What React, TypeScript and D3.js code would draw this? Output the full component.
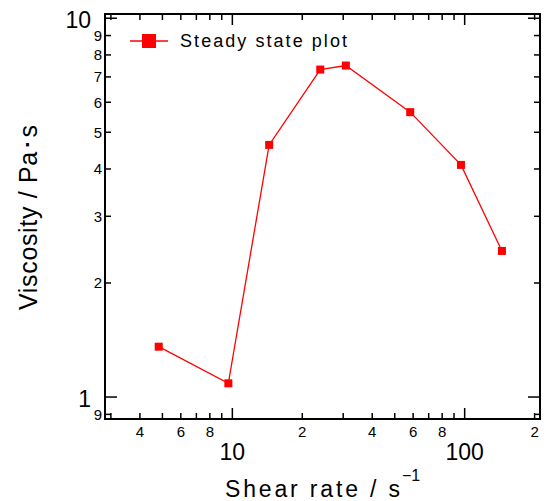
import { useEffect } from "react";
import * as d3 from "d3";

// values
const shearRate = [4.82, 9.61, 14.4, 23.9, 30.8, 58.3, 96.4, 144.7];
const viscosity = [1.358, 1.087, 4.63, 7.32, 7.5, 5.65, 4.1, 2.43];
const legendLabel = "Steady state plot";
const xLabeledMinor = [2, 4, 6, 8];

const width = 546, height = 501;
const margin = { top: 14, right: 6, bottom: 82, left: 105 };
const font = "'Liberation Sans', Arial, sans-serif";

function logTicks(lo: number, hi: number) {
  const out: { v: number; k: number }[] = [];
  for (let d = -2; d <= 4; d++) {
    for (let k = 1; k <= 9; k++) {
      const v = k * Math.pow(10, d);
      if (v >= lo && v <= hi) out.push({ v, k });
    }
  }
  return out;
}

export default function App() {
  useEffect(() => {
    document.body.style.margin = "0";
  }, []);

  const x = d3.scaleLog().domain([2.83, 211]).range([margin.left, width - margin.right]);
  const y = d3.scaleLog().domain([0.875, 10.26]).range([height - margin.bottom, margin.top]);
  const [x0, x1] = x.range();
  const [y0, y1] = y.range();

  const pts = shearRate.map((s, i) => [x(s), y(viscosity[i])] as [number, number]);
  const line = d3.line();
  const xt = logTicks(2.83, 211);
  const yt = logTicks(0.875, 10.26);

  return (
    <svg width={width} height={height} style={{ display: "block", background: "#fff" }}>
      {/* ticks */}
      <g stroke="#000" strokeWidth={1.5}>
        {xt.map((t, i) => {
          const len = t.k === 1 ? 11 : 6;
          const px = x(t.v);
          return (
            <g key={"x" + i}>
              <line x1={px} x2={px} y1={y0} y2={y0 - len} />
              <line x1={px} x2={px} y1={y1} y2={y1 + len} />
            </g>
          );
        })}
        {yt.map((t, i) => {
          const len = t.k === 1 ? 12 : 6;
          const py = y(t.v);
          return (
            <g key={"y" + i}>
              <line x1={x0} x2={x0 + len} y1={py} y2={py} />
              <line x1={x1} x2={x1 - len} y1={py} y2={py} />
            </g>
          );
        })}
      </g>
      <rect x={x0} y={y1} width={x1 - x0} height={y0 - y1} fill="none" stroke="#000" strokeWidth={2} />

      {/* tick labels */}
      <g fontFamily={font} fill="#000">
        {xt.map((t, i) =>
          t.k === 1 ? (
            <text key={"xl" + i} x={x(t.v)} y={460} fontSize={23} textAnchor="middle">{t.v}</text>
          ) : xLabeledMinor.includes(t.k) ? (
            <text key={"xl" + i} x={x(t.v)} y={437} fontSize={15} textAnchor="middle">{t.k}</text>
          ) : null
        )}
        {yt.map((t, i) =>
          t.k === 1 ? (
            <text key={"yl" + i} x={91} y={y(t.v) + 9.5} fontSize={23} textAnchor="end">{t.v}</text>
          ) : (
            <text key={"yl" + i} x={102} y={y(t.v) + 5.5} fontSize={15} textAnchor="end">{t.k}</text>
          )
        )}
      </g>

      {/* series */}
      <path d={line(pts) || ""} fill="none" stroke="#ff0000" strokeWidth={1.3} />
      {pts.map((p, i) => (
        <rect key={"m" + i} x={p[0] - 4} y={p[1] - 4} width={8} height={8} fill="#ff0000" />
      ))}

      {/* legend */}
      <line x1={130} x2={168} y1={41} y2={41} stroke="#ff0000" strokeWidth={1.3} />
      <rect x={142} y={34} width={14} height={14} fill="#ff0000" />
      <text x={180} y={47} fontFamily={font} fontSize={18} textLength={167} lengthAdjust="spacing">{legendLabel}</text>

      {/* axis titles */}
      <text x={225} y={497} fontFamily={font} fontSize={23} textLength={175} lengthAdjust="spacing">Shear rate / s</text>
      <text x={402} y={481} fontFamily={font} fontSize={16}>−1</text>
      <text transform="translate(37,310) rotate(-90)" fontFamily={font} fontSize={25} textLength={185} lengthAdjust="spacing">Viscosity / Pa･s</text>
    </svg>
  );
}
